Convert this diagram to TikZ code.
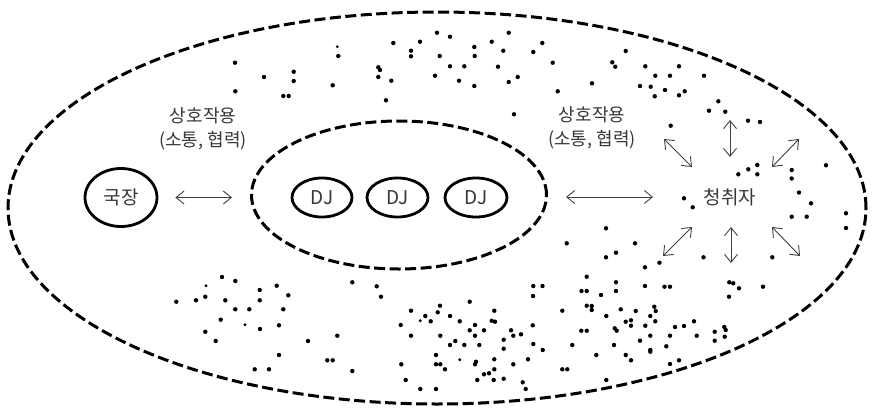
\documentclass[tikz,border=0pt]{standalone}
\usepackage{fontspec}
\setmainfont{Noto Sans CJK KR}
\usetikzlibrary{shapes.geometric,arrows.meta}
\definecolor{txt}{RGB}{55,55,55}
\definecolor{arr}{RGB}{64,64,64}
\tikzset{
  dashellipse/.style={draw=black, line width=3pt, dash pattern=on 11pt off 4.5pt, ellipse, inner sep=0pt},
  solidellipse/.style={draw=black, line width=2.8pt, ellipse, inner sep=0pt, text=txt, font=\fontsize{19}{21}\selectfont},
  lbl/.style={text=txt, font=\fontsize{18}{24}\selectfont, align=center, inner sep=0pt},
  dblarrow/.style={draw=arr, line width=0.9pt, {Straight Barb[length=8pt,width=13pt]}-{Straight Barb[length=8pt,width=13pt]}},
  dot/.style={fill=black}
}
\begin{document}
\begin{tikzpicture}[x=1pt,y=-1pt]
\useasboundingbox (0,0) rectangle (873,410);
% outer ellipse
\node[dashellipse, minimum width=858pt, minimum height=392pt] (outer) at (437,208) {};
% inner ellipse
\node[dashellipse, minimum width=295pt, minimum height=148pt] (inner) at (399,195) {};
% nodes
\node[solidellipse, minimum width=72pt, minimum height=58pt] (gukjang) at (121,197.5) {국장};
\node[solidellipse, minimum width=60pt, minimum height=39pt] (dj1) at (322,197.5) {DJ};
\node[solidellipse, minimum width=61pt, minimum height=39pt] (dj2) at (397.5,197.5) {DJ};
\node[solidellipse, minimum width=62pt, minimum height=39pt] (dj3) at (476,197.5) {DJ};
\node[lbl, font=\fontsize{19}{22}\selectfont] (listener) at (730,197) {청취자};
\node[lbl] (lab1) at (203,129) {상호작용\\(소통, 협력)};
\node[lbl] (lab2) at (592,128) {상호작용\\(소통, 협력)};
% arrows
\draw[dblarrow, shorten <=17pt, shorten >=18pt] (gukjang.east) -- (gukjang.east -| inner.west);
\draw[dblarrow, shorten <=18pt, shorten >=77pt] (inner.east |- listener.center) -- (listener.center);
\draw[dblarrow] ([shift={(-66,-58)}]listener.center) -- ([shift={(-38,-30)}]listener.center);
\draw[dblarrow] ([shift={(0,-77)}]listener.center) -- ([shift={(0,-40)}]listener.center);
\draw[dblarrow] ([shift={(42,-30)}]listener.center) -- ([shift={(69,-58)}]listener.center);
\draw[dblarrow] ([shift={(-67,59)}]listener.center) -- ([shift={(-38,30)}]listener.center);
\draw[dblarrow] ([shift={(1,30)}]listener.center) -- ([shift={(1,66)}]listener.center);
\draw[dblarrow] ([shift={(42,30)}]listener.center) -- ([shift={(70,59)}]listener.center);
% dots
\foreach \p in {
(235,62.7),(235.3,91.3),(264,77),(293.7,71.7),(293.7,81),(283.3,96),(288.7,96),(338.3,56),(332.7,85.3),
(393.3,43),(411,50.7),(411,56.3),(420,41.7),(437,32.7),(450,36.7),(439.7,56),(450,66.3),(435,75.7),(464.3,66.3),(459,80.7),
(474.3,47),(474.7,56),(474.3,86),(491.7,41.7),(508.7,32.7),(503.3,50.7),(498,66.7),(508.7,82),(517.7,77),(533.3,52),(542.3,43),
(552.7,62.7),(557.7,91.3),(378.3,67.3),(380,70),(378.3,77),(391.3,80.7),(386,100.3),(514,114.3),
(625.7,51),(612.3,62.3),(615.3,66.7),(592,83.3),(645.3,66.3),(655.3,75.7),(670,75.7),(679,66.3),(640,86),(650.7,86.7),
(654.7,96.3),(665,90),(679,95.3),(684.7,91.3),(704,75.7),(718.3,101.3),(709,110.7),(725.3,111.7),(748,120.7),(760,122),(670.7,125.7),
(738.3,174.3),(748.3,169.3),(757.3,165),(757.3,174.3),(791.7,170),(791.7,178.5),(799,192.5),(811,203.3),(791.7,216.7),(806.7,216.7),
(684,198.3),(692.7,207.3),(826,165.3),(846,213.3),(846,228),
(606,228.3),(566.7,243.3),(635,243.3),(616,252.7),(606,257.3),(659.5,262.7),(645,267.3),(703.5,257.3),(772.3,257.3),
(586.7,276.7),(533.3,286),(542.5,286),(581.5,291),(586.7,291),(601,295),(616,282.3),(616,291),(645,286),(664.5,286.7),(670,286.7),
(729.3,282.3),(733.3,283.3),(739,288.3),(763,286.7),(533,296),(729,296.7),
(222,277),(235.3,281),(205.3,296.7),(196,300.3),(176.3,301.7),(225.3,300.3),(259.7,290),(276.7,285.7),(259.7,300.3),(288.3,295.3),
(235.3,309.3),(249.3,309.3),(283.3,309.3),(220.7,319.7),(260,329),(279,325.3),(205.3,331.7),(215.7,341),(308,341),(337.3,335.7),
(352.3,282.3),(279,355),(327.3,360.3),(332.7,360.3),(254.7,369.3),(269,369.3),(352.3,371),
(376.7,286.3),(381,296.7),(532.7,325.3),(469.7,301.7),(411,310.7),(440,305.7),(437.7,312.3),(425.3,316),(430.7,321.3),
(400.7,325),(450,316),(459.7,321.3),(494.3,310.7),(491.7,320.7),(495,321.7),(475,325),(469.7,330.3),(484,330.3),(475,335.7),
(411,335.7),(440.3,335.7),(455.3,341),(450,345),(464.3,345),(479.3,345),(511,330.3),(513.3,335.7),(521,334.3),(503.7,339.7),
(503.7,348.7),(533.3,344),(542.7,350),(436,355),(401.3,364.3),(436,364.3),(440.3,364.3),(445,369.3),(476,361.7),(475,364.3),
(494.3,359.3),(513.3,364.3),(528,359.3),(494.3,369.3),(489,373.3),(484,374.3),(405.7,380),(477.3,380),(493.7,380),(503.7,378.7),
(522.7,382.3),(525.7,389),(420.3,389),(436,389),
(562.3,310.7),(586.7,305.7),(591.7,306),(591.7,310),(606.3,316),(620.7,309.3),(635.7,311),(654.3,306.7),(655.7,311),(650.3,316),
(625.7,321.7),(631,320.3),(631,325.7),(655.3,321.3),(645.3,325.7),(614.7,328.3),(616.7,330.7),(581.3,330.7),(586.7,330.7),
(675,327),(684,326),(694,321.3),(650.3,335.7),(670,335.7),(696.7,335.7),(714.7,331.7),(724.3,327),(725.7,330),(724.7,336.7),
(714.7,340.7),(572.3,345),(640,340.7),(614,345),(666.3,346.3),(650.3,350),(650.3,351.7),(596.3,355),(625.7,355),(631,360.3),
(670,364),(679,360.3),(562.3,369.3),(567.3,369.3),(606.3,380)}
  \fill[dot] \p circle (2.2pt);
\foreach \p in {(337.3,46.7),(206,285.7),(245,324.7),(420.3,320.7),(459.7,359.7)}
  \fill[dot] \p circle (1.6pt);
\end{tikzpicture}
\end{document}
